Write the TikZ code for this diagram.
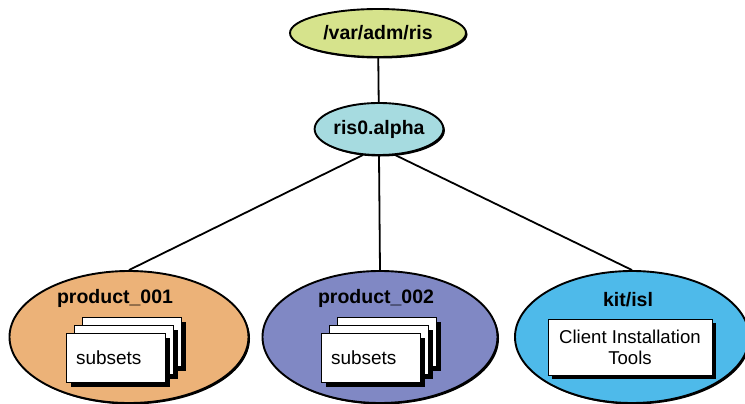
\documentclass[tikz,border=0pt]{standalone}
\usepackage{fontspec}
\setmainfont{Liberation Sans}
\usepackage{tikz}
\usetikzlibrary{shapes.geometric,shadows}
\definecolor{rootfill}{RGB}{214,227,140}
\definecolor{risfill}{RGB}{166,219,224}
\definecolor{prodone}{RGB}{236,178,120}
\definecolor{prodtwo}{RGB}{128,136,196}
\definecolor{kitfill}{RGB}{78,186,234}

\begin{document}
\begin{tikzpicture}[x=1pt,y=-1pt,
    dir/.style={ellipse,draw,line width=1.9pt,inner sep=0pt,
        font=\fontsize{19.5}{22}\selectfont\bfseries,
        drop shadow={shadow xshift=1.5pt,shadow yshift=-1.5pt,opacity=1,fill=black}},
    page/.style={rectangle,draw,fill=white,line width=0.8pt,
        minimum width=99pt,minimum height=49pt,
        font=\fontsize{19}{21}\selectfont,
        drop shadow={shadow xshift=4pt,shadow yshift=-4pt,opacity=1,fill=black}},
    lbl/.style={font=\fontsize{19.5}{22}\selectfont\bfseries},
    link/.style={line width=1.8pt}]
    \useasboundingbox (0,0) rectangle (745,404);
    % directories
    \node[dir,fill=rootfill,minimum width=176pt,minimum height=48pt] (root) at (378,33) {/var/adm/ris};
    \node[dir,fill=risfill,minimum width=124pt,minimum height=52pt] (ris) at (379,129) {ris0.alpha};
    \node[dir,fill=prodone,minimum width=239pt,minimum height=132pt] (p1) at (129,337) {};
    \node[dir,fill=prodtwo,minimum width=235pt,minimum height=132pt] (p2) at (380,337) {};
    \node[dir,fill=kitfill,minimum width=234pt,minimum height=132pt] (kit) at (632,337) {};
    \path[link] (root) edge (ris)
        (ris.238) edge (p1.north)
        (ris.south) edge (p2.north)
        (ris.302) edge (kit.north);
    % labels
    \node[lbl] (l1) at (115,298) {product\_001};
    \node[lbl] (l2) at (376,298) {product\_002};
    \node[lbl] (l3) at (628,300) {kit/isl};
    % subsets stacks
    \node[page] (s1c) at (132,342) {};
    \node[page] (s1b) at (124,350) {};
    \node[page,text width=80pt] (s1a) at (116,358) {subsets};
    \node[page] (s2c) at (387,342) {};
    \node[page] (s2b) at (379,350) {};
    \node[page,text width=80pt] (s2a) at (371,358) {subsets};
    \node[page,minimum width=164pt,minimum height=56pt,align=center,
        font=\fontsize{18.6}{21}\selectfont] (tools) at (630,347) {Client Installation\\Tools};
\end{tikzpicture}
\end{document}
